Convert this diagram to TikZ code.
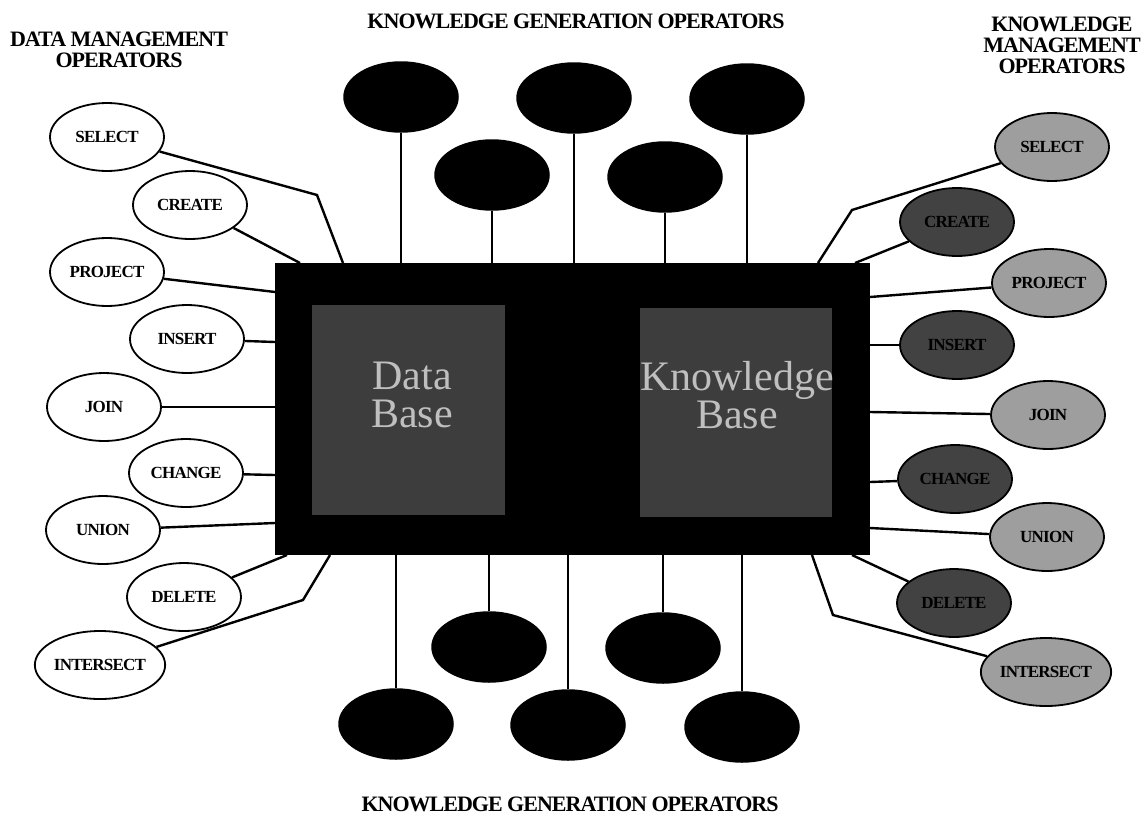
\documentclass[tikz,border=0pt]{standalone}
\usepackage{fontspec}
\setmainfont{Liberation Serif}
\newfontfamily\tightfont[LetterSpace=-4.5]{Liberation Serif}
\usetikzlibrary{shapes.geometric}
\tikzset{
  op/.style={ellipse,draw=black,line width=1.8pt,minimum width=114pt,minimum height=68pt,inner sep=0pt,
    font=\tightfont\fontsize{17}{18}\selectfont\bfseries},
  dmop/.style={op,fill=white},
  kmlight/.style={op,fill=black!38},
  kmdark/.style={op,fill=black!74},
  genop/.style={ellipse,draw=black,fill=black,line width=1.5pt,minimum width=114pt,minimum height=70pt,inner sep=0pt},
  conn/.style={line width=2.4pt,line join=miter},
  vconn/.style={line width=1.8pt},
  title/.style={font=\tightfont\fontsize{22}{21}\selectfont\bfseries,align=center},
  panel/.style={fill=black!76,draw=none},
  paneltext/.style={text=black!25,font=\fontsize{42}{38}\selectfont,align=center}
}
\begin{document}
\begin{tikzpicture}[x=1pt,y=-1pt]
\useasboundingbox (0,0) rectangle (1146,817);
% titles
\node[title] (tdm) at (119,50) {DATA MANAGEMENT\\OPERATORS};
\node[title] (tkg) at (576,21) {KNOWLEDGE GENERATION OPERATORS};
\node[title] (tkm) at (1062,45) {KNOWLEDGE\\MANAGEMENT\\OPERATORS};
\node[title] (tkgb) at (570,804) {KNOWLEDGE GENERATION OPERATORS};
% central box
\node[draw=none,fill=black,minimum width=595pt,minimum height=292pt,inner sep=0pt,anchor=north west] (box) at (275,263) {};
\node[panel,minimum width=193pt,minimum height=210pt,inner sep=0pt,anchor=north west] (dbp) at (312,305) {};
\node[panel,minimum width=192pt,minimum height=209pt,inner sep=0pt,anchor=north west] (kbp) at (640,308) {};
\node[paneltext] (dbt) at (412,395) {Data\\Base};
\node[paneltext] (kbt) at (737,395) {Knowledge\\Base};
% box attach points
\coordinate (l1) at (343,263); \coordinate (l2) at (300,263);
\coordinate (l3) at (275,292); \coordinate (l4) at (275,342);
\coordinate (l5) at (275,407); \coordinate (l6) at (275,475);
\coordinate (l7) at (275,523); \coordinate (l8) at (287,555);
\coordinate (l9) at (330,555);
\coordinate (r1) at (818,263); \coordinate (r2) at (855,263);
\coordinate (r3) at (870,297); \coordinate (r4) at (870,345);
\coordinate (r5) at (870,412); \coordinate (r6) at (870,482);
\coordinate (r7) at (870,528); \coordinate (r8) at (852,555);
\coordinate (r9) at (812,555);
\coordinate (lb1) at (317,195); \coordinate (lb9) at (303,600);
\coordinate (rb1) at (852,210); \coordinate (rb9) at (833,615);
% data management operators
\node[dmop] (dsel) at (107,137) {SELECT};
\node[dmop] (dcre) at (190,205) {CREATE};
\node[dmop] (dpro) at (107,272) {PROJECT};
\node[dmop] (dins) at (187,339) {INSERT};
\node[dmop] (djoi) at (104,407) {JOIN};
\node[dmop] (dcha) at (186,473) {CHANGE};
\node[dmop] (duni) at (103,530) {UNION};
\node[dmop] (ddel) at (184,597) {DELETE};
\node[dmop] (dint) at (100,665) {INTERSECT};
% knowledge management operators
\node[kmlight] (ksel) at (1052,147) {SELECT};
\node[kmdark]  (kcre) at (957,222) {CREATE};
\node[kmlight] (kpro) at (1049,283) {PROJECT};
\node[kmdark]  (kins) at (957,345) {INSERT};
\node[kmlight] (kjoi) at (1048,415) {JOIN};
\node[kmdark]  (kcha) at (955,479) {CHANGE};
\node[kmlight] (kuni) at (1047,537) {UNION};
\node[kmdark]  (kdel) at (954,603) {DELETE};
\node[kmlight] (kint) at (1046,672) {INTERSECT};
% left connectors
\draw[conn] (dsel) -- (lb1) -- (l1);
\draw[conn] (dcre) -- (l2);
\draw[conn] (dpro) -- (l3);
\draw[conn] (dins) -- (l4);
\draw[conn] (djoi) -- (l5);
\draw[conn] (dcha) -- (l6);
\draw[conn] (duni) -- (l7);
\draw[conn] (ddel) -- (l8);
\draw[conn] (dint) -- (lb9) -- (l9);
% right connectors
\draw[conn] (ksel) -- (rb1) -- (r1);
\draw[conn] (kcre) -- (r2);
\draw[conn] (kpro) -- (r3);
\draw[conn] (kins) -- (r4);
\draw[conn] (kjoi) -- (r5);
\draw[conn] (kcha) -- (r6);
\draw[conn] (kuni) -- (r7);
\draw[conn] (kdel) -- (r8);
\draw[conn] (kint) -- (rb9) -- (r9);
% knowledge generation operators (top)
\node[genop] (g1) at (401,97) {};
\node[genop] (g2) at (574,98) {};
\node[genop] (g3) at (747,99) {};
\node[genop] (g4) at (492,175) {};
\node[genop] (g5) at (665,177) {};
\foreach \g in {g1,g2,g3,g4,g5} \draw[vconn] (\g.south) -- (\g.south |- box.north);
% knowledge generation operators (bottom)
\node[genop] (h1) at (396,724) {};
\node[genop] (h2) at (568,725) {};
\node[genop] (h3) at (742,727) {};
\node[genop] (h4) at (489,647) {};
\node[genop] (h5) at (663,648) {};
\foreach \h in {h1,h2,h3,h4,h5} \draw[vconn] (\h.north) -- (\h.north |- box.south);
\end{tikzpicture}
\end{document}
